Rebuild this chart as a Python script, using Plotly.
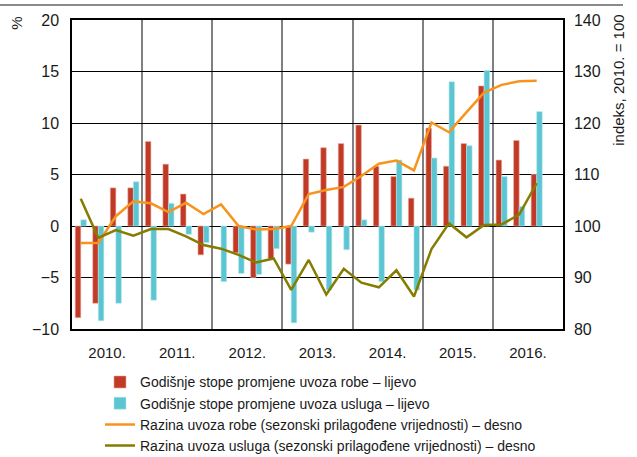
import plotly.graph_objects as go

years = ["2010.", "2011.", "2012.", "2013.", "2014.", "2015.", "2016."]
quarters = list(range(27))  # 2010 Q1 .. 2016 Q3

goods_yoy = [-8.9, -7.5, 3.7, 3.7,
             8.2, 6.0, 3.1, -2.8,
             None, -2.6, -5.0, -3.2,
             -3.7, 6.5, 7.6, 8.0,
             9.8, 5.8, 4.8, 2.7,
             9.5, 5.8, 8.0, 13.6,
             6.4, 8.3, 5.0]
services_yoy = [0.6, -9.2, -7.5, 4.3,
                -7.2, 2.2, -0.8, -1.6,
                -5.4, -4.6, -4.7, -2.2,
                -9.4, -0.6, -6.2, -2.3,
                0.6, -5.4, 6.4, -6.2,
                6.6, 14.0, 7.8, 15.1,
                4.8, 1.9, 11.1]
goods_level = [96.7, 96.7, 101.9, 104.8,
               104.4, 102.7, 104.5, 102.3,
               104.2, 100.0, 99.3, 99.4,
               100.0, 106.2, 107.0, 107.6,
               109.7, 112.1, 112.7, 110.8,
               120.1, 118.2, 122.1, 125.9,
               127.4, 128.1, 128.2]
services_level = [105.3, 97.7, 99.2, 98.1,
                  99.4, 99.4, 98.0, 96.3,
                  95.6, 94.4, 92.9, 93.7,
                  87.6, 93.4, 86.7, 91.7,
                  89.0, 88.1, 91.4, 86.3,
                  95.5, 100.5, 97.8, 100.2,
                  100.3, 102.2, 108.3]

names = ["Godišnje stope promjene uvoza robe – lijevo",
         "Godišnje stope promjene uvoza usluga – lijevo",
         "Razina uvoza robe (sezonski prilagođene vrijednosti) – desno",
         "Razina uvoza usluga (sezonski prilagođene vrijednosti) – desno"]

RED = "#c03a26"
CYAN = "#5bc6d2"
ORANGE = "#f7941d"
OLIVE = "#857c00"
FONT = "Liberation Sans, Arial, sans-serif"

fig = go.Figure()
fig.add_trace(go.Bar(x=quarters, y=goods_yoy, name=names[0],
                     marker=dict(color=RED, line=dict(color="#e8a79c", width=0.6))))
fig.add_trace(go.Bar(x=quarters, y=services_yoy, name=names[1],
                     marker=dict(color=CYAN, line=dict(color="#b5e6ec", width=0.6))))
fig.add_trace(go.Scatter(x=quarters, y=goods_level, name=names[2], yaxis="y2",
                         mode="lines", line=dict(color=ORANGE, width=2.5)))
fig.add_trace(go.Scatter(x=quarters, y=services_level, name=names[3], yaxis="y2",
                         mode="lines", line=dict(color=OLIVE, width=2.5)))

year_centers = [4 * i + 1.5 for i in range(len(years))]

fig.update_layout(
    width=637, height=457,
    margin=dict(l=72, r=74, t=20, b=128, autoexpand=False),
    paper_bgcolor="white", plot_bgcolor="white",
    font=dict(family=FONT, size=15, color="#1a1a1a"),
    barmode="group", bargap=0.37, bargroupgap=0,
    showlegend=True,
    legend=dict(x=0.057, y=-0.121, xanchor="left", yanchor="top",
                orientation="v", font=dict(size=14, family=FONT),
                itemwidth=30, tracegroupgap=0, bgcolor="rgba(0,0,0,0)"),
    xaxis=dict(range=[-0.5, 27.5], tickvals=year_centers, ticktext=years,
               showgrid=False, zeroline=False, ticks="",
               showline=True, linecolor="black", linewidth=1.5, mirror=True,
               tickfont=dict(size=15), automargin=False, ticklabelstandoff=9,
               minor=dict(tick0=-0.5, dtick=4, showgrid=True,
                          gridcolor="#808080", gridwidth=1.5, ticks="")),
    yaxis=dict(range=[-10, 20], dtick=5, showgrid=True, gridcolor="black",
               gridwidth=1, zeroline=True, zerolinecolor="black", zerolinewidth=1,
               showline=True, linecolor="black", linewidth=1.5, automargin=False,
               ticks="", tickfont=dict(size=16), ticklabelstandoff=8),
    yaxis2=dict(range=[80, 140], dtick=10, overlaying="y", side="right",
                showgrid=False, zeroline=False, showline=True, automargin=False,
                linecolor="black", linewidth=1.5, ticks="",
                tickfont=dict(size=16), ticklabelstandoff=6),
)

fig.add_shape(type="line", xref="paper", yref="paper",
              x0=-72 / 491, x1=551 / 491, y0=1.0485, y1=1.0485,
              line=dict(color="#8a8a8a", width=2))

fig.add_annotation(text="%", xref="paper", yref="paper", x=-0.112, y=1.015,
                   textangle=-90, showarrow=False, font=dict(size=15),
                   xanchor="center", yanchor="top")
fig.add_annotation(text="indeks, 2010. = 100", xref="paper", yref="paper",
                   x=1.114, y=1.025, textangle=-90, showarrow=False,
                   font=dict(size=15), xanchor="center", yanchor="top")

fig.write_html("out.html", config={"displayModeBar": False},
               post_script="document.body.style.margin='0';document.body.style.padding='0';")
